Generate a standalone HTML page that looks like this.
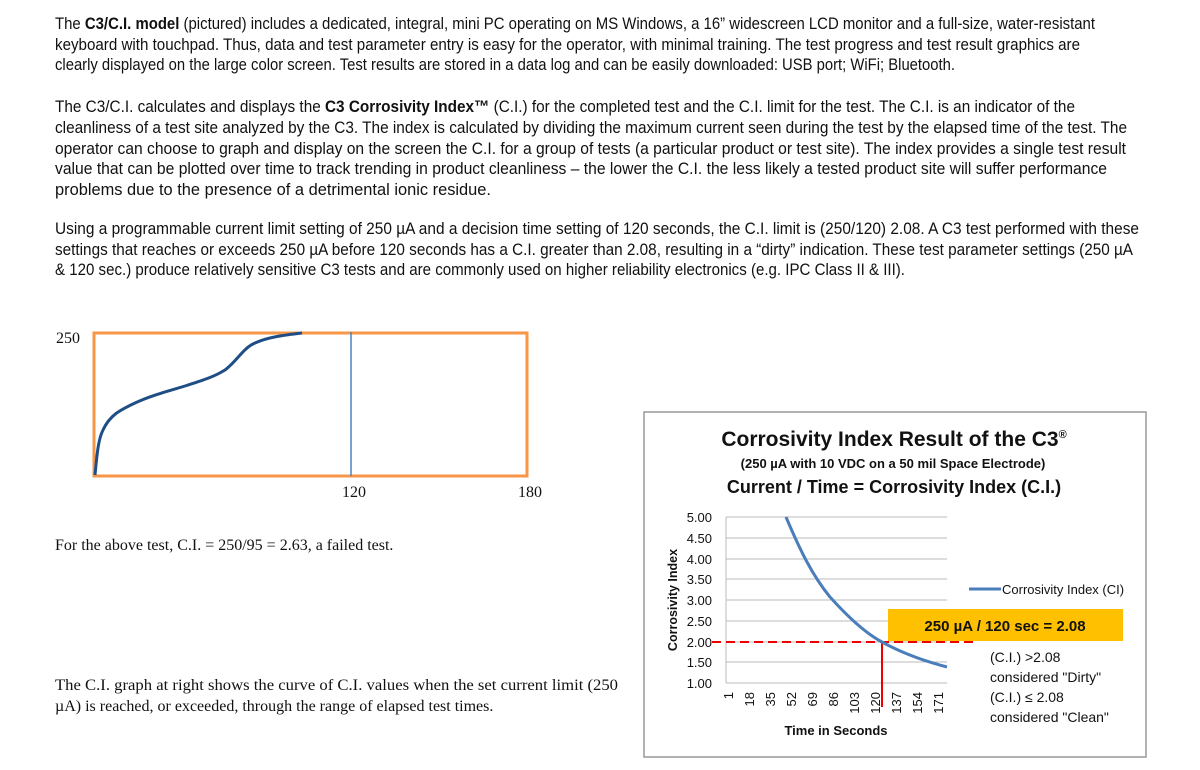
<!DOCTYPE html>
<html><head><meta charset="utf-8"><style>
html,body{margin:0;padding:0;background:#fff;}
svg{display:block}
.p{font-family:"Liberation Sans",sans-serif;font-size:16.5px;fill:#111}
.s{font-family:"Liberation Serif",serif;font-size:16px;fill:#111}
.c{font-family:"Liberation Sans",sans-serif;fill:#111}
</style></head><body>
<svg width="1200" height="770" viewBox="0 0 1200 770" xmlns="http://www.w3.org/2000/svg">
<g class="p">
<text x="55" y="29" textLength="1040" lengthAdjust="spacingAndGlyphs">The <tspan font-weight="bold">C3/C.I. model</tspan> (pictured) includes a dedicated, integral, mini PC operating on MS Windows, a 16” widescreen LCD monitor and a full-size, water-resistant</text>
<text x="55" y="50" textLength="1025" lengthAdjust="spacingAndGlyphs">keyboard with touchpad.  Thus, data and test parameter entry is easy for the operator, with minimal training.  The test progress and test result graphics are</text>
<text x="55" y="70" textLength="900" lengthAdjust="spacingAndGlyphs">clearly displayed on the large color screen.  Test results are stored in a data log and can be easily downloaded: USB port; WiFi; Bluetooth.</text>
<text x="55" y="112" textLength="1020" lengthAdjust="spacingAndGlyphs">The C3/C.I. calculates and displays the <tspan font-weight="bold">C3 Corrosivity Index™</tspan> (C.I.) for the completed test and the C.I. limit for the test.   The C.I. is an indicator of the</text>
<text x="55" y="133" textLength="1072" lengthAdjust="spacingAndGlyphs">cleanliness of a test site analyzed by the C3.  The index is calculated by dividing the maximum current seen during the test by the elapsed time of the test.  The</text>
<text x="55" y="154" textLength="1071" lengthAdjust="spacingAndGlyphs">operator can choose to graph and display on the screen the C.I. for a group of tests (a particular product or test site).  The index provides a single test result</text>
<text x="55" y="174" textLength="1052" lengthAdjust="spacingAndGlyphs">value that can be plotted over time to track trending in product cleanliness – the lower the C.I. the less likely a tested product site will suffer performance</text>
<text x="55" y="195" textLength="436" lengthAdjust="spacingAndGlyphs">problems due to the presence of a detrimental ionic residue.</text>
<text x="55" y="234" textLength="1084" lengthAdjust="spacingAndGlyphs">Using a programmable current limit setting of 250 µA and a decision time setting of 120 seconds, the C.I. limit is (250/120) 2.08.  A C3 test performed with these</text>
<text x="55" y="255" textLength="1078" lengthAdjust="spacingAndGlyphs">settings that reaches or exceeds 250 µA before 120 seconds has a C.I. greater than 2.08, resulting in a “dirty” indication.  These test parameter settings (250 µA</text>
<text x="55" y="275" textLength="850" lengthAdjust="spacingAndGlyphs">&amp; 120 sec.) produce relatively sensitive C3 tests and are commonly used on higher reliability electronics (e.g. IPC Class II &amp; III).</text>
</g>
<!-- left chart -->
<rect x="94" y="333" width="433" height="143" fill="none" stroke="#f79646" stroke-width="3"/>
<line x1="351" y1="332" x2="351" y2="476" stroke="#4f81bd" stroke-width="1.5"/>
<path d="M95,475 C97,455 98,440 103,430 C110,415 120,410 135,403 C150,396 165,392 185,386 C200,381 212,378 225,370 C238,360 243,348 255,343 C268,337 285,335 302,333" fill="none" stroke="#1f4e87" stroke-width="3"/>
<text class="s" x="56" y="343">250</text>
<text class="s" x="342" y="497">120</text>
<text class="s" x="518" y="497">180</text>
<text class="s" x="55" y="550">For the above test, C.I. = 250/95 = 2.63, a failed test.</text>
<text class="s" x="55" y="690" textLength="563" lengthAdjust="spacingAndGlyphs">The C.I. graph at right shows the curve of C.I. values when the set current limit (250</text>
<text class="s" x="55" y="711">µA) is reached, or exceeded, through the range of elapsed test times.</text>
<!-- right chart -->
<rect x="644" y="412" width="502" height="345" fill="#fff" stroke="#999" stroke-width="1.5"/>
<g class="c" font-weight="bold" text-anchor="middle">
<text x="894" y="446" font-size="21">Corrosivity Index Result of the C3<tspan font-size="11" dy="-8">®</tspan></text>
<text x="893" y="468" font-size="13">(250 µA with 10 VDC on a 50 mil Space Electrode)</text>
<text x="894" y="493" font-size="18">Current / Time = Corrosivity Index (C.I.)</text>
</g>
<g stroke="#bbb" stroke-width="1">
<line x1="726" y1="517" x2="947" y2="517"/><line x1="726" y1="538" x2="947" y2="538"/>
<line x1="726" y1="559" x2="947" y2="559"/><line x1="726" y1="579" x2="947" y2="579"/>
<line x1="726" y1="600" x2="947" y2="600"/><line x1="726" y1="621" x2="947" y2="621"/>
<line x1="726" y1="642" x2="947" y2="642"/><line x1="726" y1="662" x2="947" y2="662"/>
<line x1="726" y1="683" x2="947" y2="683"/><line x1="726" y1="517" x2="726" y2="683"/>
</g>
<g class="c" font-size="13" text-anchor="end">
<text x="712" y="522">5.00</text><text x="712" y="543">4.50</text><text x="712" y="564">4.00</text>
<text x="712" y="584">3.50</text><text x="712" y="605">3.00</text><text x="712" y="626">2.50</text>
<text x="712" y="647">2.00</text><text x="712" y="667">1.50</text><text x="712" y="688">1.00</text>
</g>
<text class="c" font-size="12.5" font-weight="bold" text-anchor="middle" transform="translate(677,600) rotate(-90)">Corrosivity Index</text>
<g class="c" font-size="13" text-anchor="end">
<text transform="translate(733,692) rotate(-90)">1</text>
<text transform="translate(754,692) rotate(-90)">18</text>
<text transform="translate(775,692) rotate(-90)">35</text>
<text transform="translate(796,692) rotate(-90)">52</text>
<text transform="translate(817,692) rotate(-90)">69</text>
<text transform="translate(838,692) rotate(-90)">86</text>
<text transform="translate(859,692) rotate(-90)">103</text>
<text transform="translate(880,692) rotate(-90)">120</text>
<text transform="translate(901,692) rotate(-90)">137</text>
<text transform="translate(922,692) rotate(-90)">154</text>
<text transform="translate(943,692) rotate(-90)">171</text>
</g>
<text class="c" font-size="13" font-weight="bold" x="836" y="735" text-anchor="middle">Time in Seconds</text>
<rect x="888" y="609" width="235" height="32" fill="#ffc000"/>
<text class="c" font-size="15" font-weight="bold" x="1005" y="631" text-anchor="middle">250 µA / 120 sec = 2.08</text>
<line x1="712" y1="642" x2="975" y2="642" stroke="#e00" stroke-width="2" stroke-dasharray="9,5"/>
<line x1="882" y1="642" x2="882" y2="707" stroke="#e00" stroke-width="2"/>
<path d="M786,517 C800,550 812,575 830,597 C848,617 865,633 882,642 C900,652 920,660 947,667" fill="none" stroke="#4a7ebb" stroke-width="3"/>
<line x1="969" y1="589" x2="1001" y2="589" stroke="#4a7ebb" stroke-width="3"/>
<text class="c" font-size="13" x="1002" y="594">Corrosivity Index (CI)</text>
<g class="c" font-size="14">
<text x="990" y="662">(C.I.) &gt;2.08</text>
<text x="990" y="682">considered "Dirty"</text>
<text x="990" y="702">(C.I.) ≤ 2.08</text>
<text x="990" y="722">considered "Clean"</text>
</g>
</svg>
</body></html>
